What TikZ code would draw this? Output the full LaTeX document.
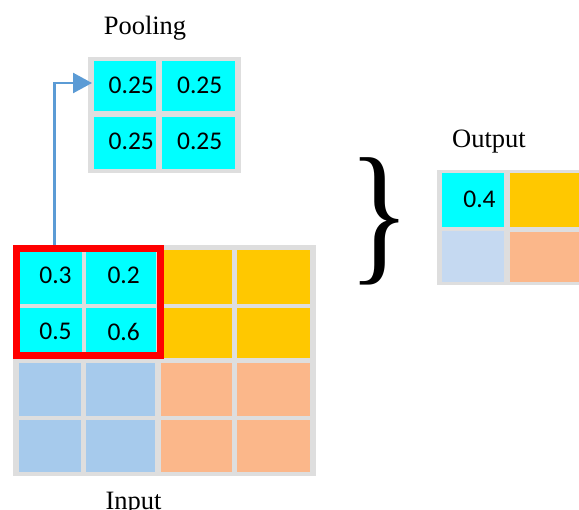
\documentclass[tikz,border=0pt]{standalone}
\usepackage{fontspec}
\setmainfont{Liberation Serif}
\newfontfamily\cellfont{Carlito}
\usetikzlibrary{arrows.meta}
\definecolor{gridgray}{HTML}{DEDEDE}
\definecolor{cellcyan}{HTML}{00FFFF}
\definecolor{cellyellow}{HTML}{FFC800}
\definecolor{cellblue}{HTML}{A6CAEC}
\definecolor{cellorange}{HTML}{FBB78A}
\definecolor{cellpaleblue}{HTML}{C5D9F1}
\definecolor{arrowblue}{HTML}{5B9BD5}
\newcommand\mycell[6]{\node[cellbox,fill=#6,minimum width={(#4-#2)*1pt},minimum height={(#5-#3)*1pt}] (#1) at ({(#2+#4)/2},{(#3+#5)/2}) {};}
\begin{document}
\begin{tikzpicture}[x=1pt,y=-1pt,
  cellbox/.style={draw=none,inner sep=0pt,outer sep=0pt},
  numtxt/.style={inner sep=0pt,font=\cellfont\fontsize{25.5}{25.5}\selectfont},
  lbl/.style={inner sep=0pt,anchor=base,font=\fontsize{26.5}{26.5}\selectfont},
  flow/.style={draw=arrowblue,line width=2.5pt,-{Triangle[length=19pt,width=20pt]}}]
\clip (0,0) rectangle (579,510);
\fill[white] (0,0) rectangle (579,510);
% ---------- Input grid ----------
\mycell{ibg}{13}{245}{316}{476}{gridgray}
\mycell{i11}{19}{250}{82}{304}{cellcyan}
\mycell{i12}{86}{250}{156}{304}{cellcyan}
\mycell{i13}{161}{250}{232}{304}{cellyellow}
\mycell{i14}{237}{250}{310}{304}{cellyellow}
\mycell{i21}{19}{308}{82}{358}{cellcyan}
\mycell{i22}{86}{308}{156}{358}{cellcyan}
\mycell{i23}{161}{308}{232}{358}{cellyellow}
\mycell{i24}{237}{308}{310}{358}{cellyellow}
\mycell{i31}{19}{363}{81}{416}{cellblue}
\mycell{i32}{86}{363}{155}{416}{cellblue}
\mycell{i33}{161}{363}{232}{416}{cellorange}
\mycell{i34}{237}{363}{310}{416}{cellorange}
\mycell{i41}{19}{420}{81}{472}{cellblue}
\mycell{i42}{86}{420}{155}{472}{cellblue}
\mycell{i43}{161}{420}{232}{472}{cellorange}
\mycell{i44}{237}{420}{310}{472}{cellorange}
\node[draw=red,line width=7pt,inner sep=0pt,minimum width=144pt,minimum height=107pt] (win) at (88.5,302) {};
\node[numtxt] (t11) at (55.5,275) {0.3};
\node[numtxt] (t12) at (123.7,275) {0.2};
\node[numtxt] (t21) at (55.5,331.7) {0.5};
\node[numtxt] (t22) at (123.7,331.7) {0.6};
% ---------- Pooling grid ----------
\mycell{pbg}{88}{57}{241}{173}{gridgray}
\mycell{p11}{94}{61}{156}{111}{cellcyan}
\mycell{p12}{162}{61}{235}{111}{cellcyan}
\mycell{p21}{94}{117}{156}{169}{cellcyan}
\mycell{p22}{162}{117}{235}{169}{cellcyan}
\node[numtxt] (q11) at (131.3,85) {0.25};
\node[numtxt] (q12) at (199.7,85) {0.25};
\node[numtxt] (q21) at (131.3,141.3) {0.25};
\node[numtxt] (q22) at (199.7,141.3) {0.25};
% ---------- Output grid ----------
\mycell{obg}{437}{170}{600}{285}{gridgray}
\mycell{o11}{442}{173}{504}{227}{cellcyan}
\mycell{o12}{510}{173}{600}{227}{cellyellow}
\mycell{o21}{442}{231}{504}{282}{cellpaleblue}
\mycell{o22}{510}{232}{600}{282}{cellorange}
\node[numtxt] (r11) at (479.5,199) {0.4};
% ---------- Labels ----------
\node[lbl] (lpool) at (145,35) {Pooling};
\node[lbl] (linput) at (133.5,509.5) {Input};
\node[lbl] (loutput) at (489,148) {Output};
% ---------- Brace ----------
\node[inner sep=0pt,font=\fontsize{154}{154}\selectfont,xscale=0.84] (brace) at (379.5,221.5) {\}};
% ---------- Arrow ----------
\coordinate (ptip) at (92,83);
\coordinate (pbase) at (54.5,245);
\draw[flow] (pbase) |- (ptip);
\end{tikzpicture}
\end{document}
